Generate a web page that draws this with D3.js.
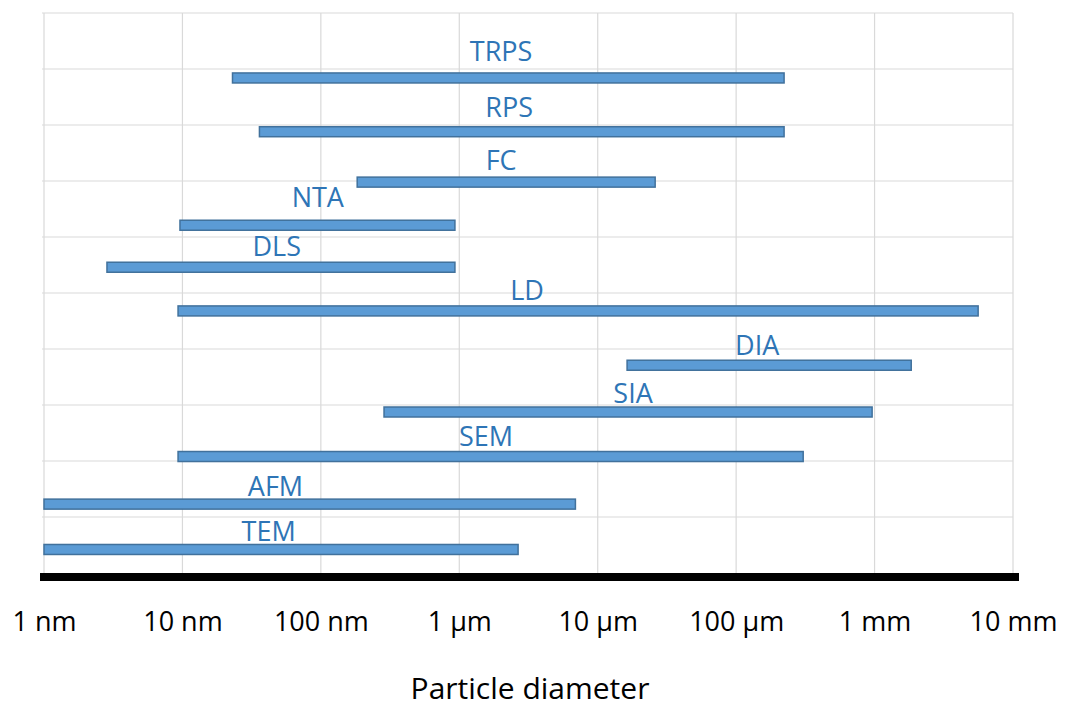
<!DOCTYPE html>
<html>
<head>
<meta charset="utf-8">
<script src="https://cdn.jsdelivr.net/npm/d3@7"></script>
<style>
    body { margin: 0; background: #fff; }
    text { font-family: 'Open Sans', sans-serif; }
</style>
</head>
<body>
<script>
// techniques and their size ranges, in nm
const methods = ['TRPS', 'RPS', 'FC', 'NTA', 'DLS', 'LD', 'DIA', 'SIA', 'SEM', 'AFM', 'TEM'];
const range_min = [23, 36, 183, 9.6, 2.85, 9.3, 16300, 286, 9.3, 1, 1];
const range_max = [222000, 222000, 26000, 930, 930, 5600000, 1840000, 960000, 305000, 6900, 2660];
// vertical placement of each bar and its label (chart rows, 0 = axis)
const bar_row = [8.84, 7.88, 6.98, 6.21, 5.46, 4.68, 3.71, 2.875, 2.08, 1.23, 0.42];
const label_row = [9.14, 8.14, 7.2, 6.54, 5.66, 4.875, 3.89, 3.04, 2.27, 1.375, 0.57];
const label_at = [2005, 2290, 2005, 95, 48, 3090, 142000, 18000, 1560, 47, 42];

const tick_values = [1, 10, 100, 1e3, 1e4, 1e5, 1e6, 1e7];
const tick_labels = ['1 nm', '10 nm', '100 nm', '1 µm', '10 µm', '100 µm', '1 mm', '10 mm'];
const row_lines = d3.range(1, 11);

const width = 1067,
    height = 706;

const x = d3.scaleLog()
    .domain([1, 1e7])
    .range([44, 1013]);

const y = d3.scaleLinear()
    .domain([0, 10])
    .range([573, 13]);

const svg = d3.select('body')
    .append('svg')
    .attr('width', width)
    .attr('height', height);

// grid
const grid = svg.append('g')
    .attr('stroke', '#d9d9d9')
    .attr('stroke-width', 1.2);

grid.selectAll('line.v')
    .data(tick_values)
    .enter().append('line')
    .attr('class', 'v')
    .attr('x1', d => x(d))
    .attr('x2', d => x(d))
    .attr('y1', y(10))
    .attr('y2', y(0));

grid.selectAll('line.h')
    .data(row_lines)
    .enter().append('line')
    .attr('class', 'h')
    .attr('x1', x(1) - 2)
    .attr('x2', x(1e7))
    .attr('y1', d => y(d))
    .attr('y2', d => y(d));

const data = methods.map((m, i) => ({
    name: m,
    lo: range_min[i],
    hi: range_max[i],
    row: bar_row[i],
    lrow: label_row[i],
    lx: label_at[i]
}));

// bars
svg.append('g')
    .selectAll('rect')
    .data(data)
    .enter().append('rect')
    .attr('x', d => x(d.lo))
    .attr('y', d => y(d.row) - 5)
    .attr('width', d => x(d.hi) - x(d.lo))
    .attr('height', 10)
    .attr('fill', '#5b9bd5')
    .attr('stroke', '#41719c')
    .attr('stroke-width', 1.5);

// labels
svg.append('g')
    .selectAll('text')
    .data(data)
    .enter().append('text')
    .attr('x', d => x(d.lx))
    .attr('y', d => y(d.lrow))
    .attr('text-anchor', 'middle')
    .attr('font-size', '27px')
    .attr('fill', '#2e75b6')
    .text(d => d.name);

// thick axis line
svg.append('line')
    .attr('x1', 40)
    .attr('x2', 1019)
    .attr('y1', y(0) + 4)
    .attr('y2', y(0) + 4)
    .attr('stroke', '#000')
    .attr('stroke-width', 8);

const axis = d3.axisBottom(x)
    .tickValues(tick_values)
    .tickFormat((d, i) => tick_labels[i])
    .tickSize(0)
    .tickPadding(36);

const ax = svg.append('g')
    .attr('transform', 'translate(0,' + (y(0) + 3) + ')')
    .call(axis);
ax.select('.domain').remove();
ax.selectAll('text')
    .attr('font-size', '27px')
    .attr('font-family', "'Open Sans', sans-serif")
    .attr('fill', '#000');

svg.append('text')
    .attr('x', 530)
    .attr('y', 699)
    .attr('text-anchor', 'middle')
    .attr('font-size', '30px')
    .attr('fill', '#000')
    .text('Particle diameter');
</script>
</body>
</html>
